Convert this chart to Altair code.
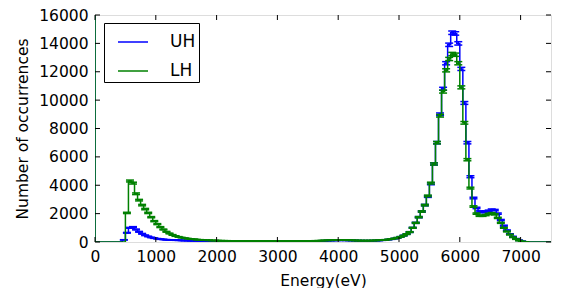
import altair as alt
import pandas as pd

# ---------------- data (counts per 50 eV bin) ----------------
BIN = 50
FIRST_EDGE = 400          # left edge of first listed bin (eV)
X_MAX = 7500
OFFSCALE_EDGE = -50       # bin just below 0 eV whose count is far off the top of the plot
OFFSCALE_COUNT = 40000

uh_counts = (
    [0, 150]                                                              # 400-450
    + [650, 1000, 1050, 880, 720, 580, 470, 390, 320, 270]                # 500-950
    + [230, 200, 180, 160, 150, 140, 130, 120, 112, 105]                  # 1000-1450
    + [100, 95, 90, 85, 80, 76, 72, 68, 64, 60]                           # 1500-1950
    + [57, 55, 53, 51, 50, 49, 48, 47, 46, 45]                            # 2000-2450
    + [45, 44, 44, 43, 43, 42, 42, 42, 41, 41]                            # 2500-2950
    + [41, 41, 42, 43, 44, 45, 47, 49, 52, 55]                            # 3000-3450
    + [58, 63, 68, 75, 83, 91, 99, 106, 112, 117]                         # 3500-3950
    + [120, 120, 118, 114, 108, 102, 96, 92, 90, 89]                      # 4000-4450
    + [90, 95, 100, 110, 125, 145, 170, 200, 240, 290]                    # 4500-4950
    + [360, 450, 560, 700, 1000, 1350, 1750, 2150, 2600, 3200]            # 5000-5450
    + [4100, 5500, 7000, 9000, 10800, 12600, 13900, 14750, 14700, 14000]  # 5500-5950
    + [12200, 9800, 7000, 4600, 3100, 2400, 2150, 2100, 2150, 2200]       # 6000-6450
    + [2280, 2250, 2000, 1550, 1150, 820, 560, 380, 230, 120]             # 6500-6950
    + [50, 15, 0]                                                         # 7000-7100
)

lh_counts = (
    [0, 0]
    + [2050, 4300, 4150, 3400, 2950, 2600, 2320, 2050, 1750, 1470]
    + [1260, 1050, 880, 720, 600, 500, 420, 360, 310, 270]
    + [240, 210, 190, 170, 155, 140, 128, 118, 110, 103]
    + [97, 92, 88, 84, 80, 77, 74, 71, 69, 67]
    + [65, 63, 62, 61, 60, 59, 58, 58, 57, 57]
    + [57, 57, 58, 58, 59, 60, 62, 64, 67, 70]
    + [74, 79, 85, 92, 100, 108, 115, 122, 128, 132]
    + [134, 133, 130, 125, 118, 110, 104, 100, 98, 98]
    + [100, 105, 112, 122, 136, 155, 180, 210, 250, 300]
    + [360, 450, 560, 700, 1000, 1350, 1750, 2150, 2600, 3250]
    + [4150, 5500, 7000, 8900, 10600, 12100, 12900, 13250, 13200, 12600]
    + [10900, 8400, 5800, 3800, 2500, 2000, 1850, 1850, 1900, 1980]
    + [2030, 1950, 1700, 1350, 1000, 740, 520, 330, 200, 100]
    + [40, 10, 0]
)

series_names = ["UH", "LH"]
series_colors = ["#0000ff", "#008000"]
x_ticks = list(range(0, 7001, 1000))
y_ticks = list(range(0, 16001, 2000))


def series_frame(name, counts):
    edges = [OFFSCALE_EDGE] + list(range(0, FIRST_EDGE, BIN))
    vals = [OFFSCALE_COUNT] + [0] * len(range(0, FIRST_EDGE, BIN))
    edges += [FIRST_EDGE + i * BIN for i in range(len(counts))]
    vals += list(counts)
    e = edges[-1] + BIN
    while e <= X_MAX:
        edges.append(e)
        vals.append(0)
        e += BIN
    df = pd.DataFrame({"edge": edges, "count": vals})
    df["center"] = df["edge"] + BIN / 2
    df["err"] = df["count"] ** 0.5
    df["lo"] = df["count"] - df["err"]
    df["hi"] = df["count"] + df["err"]
    df["series"] = name
    return df


W, H = 456, 227
FONT = "DejaVu Sans"
FS = 15.5

xscale = alt.Scale(domain=[0, X_MAX], nice=False, zero=False)
yscale = alt.Scale(domain=[0, 16000], nice=False)
cscale = alt.Scale(domain=series_names, range=series_colors)

xaxis = alt.Axis(values=x_ticks, format="d", ticks=False, domain=False, grid=False,
                 labelFontSize=FS, labelFont=FONT, labelColor="black", labelPadding=7.5,
                 labelOverlap=False, labelFlush=False,
                 title="Energy(eV)", titleFont=FONT, titleFontSize=FS, titleFontWeight="normal",
                 titleColor="black", titlePadding=8)
yaxis = alt.Axis(values=y_ticks, format="d", ticks=False, domain=False, grid=False,
                 labelFontSize=FS, labelFont=FONT, labelColor="black", labelPadding=7,
                 labelOverlap=False, labelFlush=False,
                 title="Number of occurrences", titleFont=FONT, titleFontSize=FS,
                 titleFontWeight="normal", titleColor="black", titlePadding=8)
legend = alt.Legend(title=None, orient="none", legendX=9, legendY=8,
                    strokeColor="black", fillColor="white", padding=3, cornerRadius=0,
                    symbolType="stroke", symbolSize=900, symbolStrokeWidth=1.5,
                    labelFontSize=17, labelFont=FONT, labelColor="black",
                    symbolOffset=10, labelOffset=21, rowPadding=5,
                    labelExpr="datum.label + '   '")

layers = []
for name, color, counts in zip(series_names, series_colors, [uh_counts, lh_counts]):
    df = series_frame(name, counts)
    line = alt.Chart(df).mark_line(interpolate="step-after", clip=True, strokeWidth=1.5).encode(
        x=alt.X("edge:Q", scale=xscale, axis=xaxis),
        y=alt.Y("count:Q", scale=yscale, axis=yaxis),
        color=alt.Color("series:N", scale=cscale, legend=legend),
    )
    shown = df[(df["count"] > 0) & (df["edge"] >= 0)]
    rule = alt.Chart(shown).mark_rule(clip=True, strokeWidth=1.5, color=color).encode(
        x=alt.X("center:Q", scale=xscale, axis=xaxis),
        y=alt.Y("lo:Q", scale=yscale, axis=yaxis),
        y2="hi:Q",
    )
    caps_df = pd.concat([
        shown[["center"]].assign(cap=shown["lo"]),
        shown[["center"]].assign(cap=shown["hi"]),
    ])
    caps = alt.Chart(caps_df).mark_point(shape="M-1,0L1,0", size=64, filled=False,
                                         opacity=1, strokeWidth=1.5, color=color,
                                         clip=True).encode(
        x=alt.X("center:Q", scale=xscale, axis=xaxis),
        y=alt.Y("cap:Q", scale=yscale, axis=yaxis),
    )
    layers += [line, rule, caps]

# inward tick marks on all four sides
xt = pd.DataFrame({"t": x_ticks})
yt = pd.DataFrame({"t": y_ticks})
TL = 5
tick_style = dict(color="black", strokeWidth=1)
tx = alt.X("t:Q", scale=xscale, axis=xaxis)
ty = alt.Y("t:Q", scale=yscale, axis=yaxis)
layers += [
    alt.Chart(xt).mark_rule(**tick_style).encode(x=tx, y=alt.value(H), y2=alt.value(H - TL)),
    alt.Chart(xt).mark_rule(**tick_style).encode(x=tx, y=alt.value(0), y2=alt.value(TL)),
    alt.Chart(yt).mark_rule(**tick_style).encode(y=ty, x=alt.value(0), x2=alt.value(TL)),
    alt.Chart(yt).mark_rule(**tick_style).encode(y=ty, x=alt.value(W), x2=alt.value(W - TL)),
]

chart = alt.layer(*layers).properties(
    width=W, height=H,
    autosize=alt.AutoSizeParams(type="none"),
    padding={"left": 87, "top": 7, "right": 3, "bottom": 46},
).configure_view(stroke="black", strokeWidth=1.3).configure_axis(
    labelOverlap=False
).configure(background="white")

chart.save("out.html", embed_options={"renderer": "svg", "actions": False})
